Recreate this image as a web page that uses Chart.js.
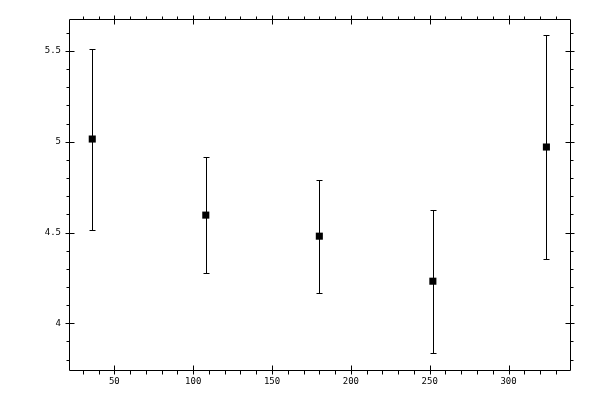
<!DOCTYPE html>
<html>
<head>
<meta charset="utf-8">
<script src="https://cdn.jsdelivr.net/npm/chart.js@4/dist/chart.umd.min.js"></script>
<style>
  body { margin: 0; background: #fff; }
  #wrap { width: 600px; height: 400px; }
</style>
</head>
<body>
<div id="wrap"><canvas id="chart" width="600" height="400"></canvas></div>
<script>
// values
var xValues = [36, 108, 180, 252, 324];
var yValues = [5.015, 4.596, 4.480, 4.232, 4.971];
var yLow    = [4.516, 4.277, 4.167, 3.834, 4.355];
var yHigh   = [5.509, 4.914, 4.789, 4.624, 5.588];

var xTickLabels = [50, 100, 150, 200, 250, 300];
var yTickLabels = [4, 4.5, 5, 5.5];

// axis ranges
var xMin = 21.25, xMax = 339.6;
var yMin = 3.743, yMax = 5.676;
var xMinorStep = 10, yMinorStep = 0.1;

var points = [];
for (var i = 0; i < xValues.length; i++) {
  points.push({ x: xValues[i], y: yValues[i] });
}

// error bars drawn under the markers
var errorBars = {
  id: "errorBars",
  beforeDatasetsDraw: function(chart) {
    var ctx = chart.ctx;
    var xs = chart.scales.x, ys = chart.scales.y;
    ctx.save();
    ctx.strokeStyle = "#000";
    ctx.lineWidth = 1;
    for (var i = 0; i < xValues.length; i++) {
      var px = Math.round(xs.getPixelForValue(xValues[i])) + 0.5;
      var top = Math.round(ys.getPixelForValue(yHigh[i])) + 0.5;
      var bot = Math.round(ys.getPixelForValue(yLow[i])) + 0.5;
      ctx.beginPath();
      ctx.moveTo(px, top); ctx.lineTo(px, bot);
      ctx.moveTo(px - 3, top); ctx.lineTo(px + 3, top);
      ctx.moveTo(px - 3, bot); ctx.lineTo(px + 3, bot);
      ctx.stroke();
    }
    ctx.restore();
  }
};

// frame with tick marks on all four sides
var frameTicks = {
  id: "frameTicks",
  afterDraw: function(chart) {
    var ctx = chart.ctx;
    var a = chart.chartArea;
    var xs = chart.scales.x, ys = chart.scales.y;
    var L = Math.round(a.left) + 0.5, R = Math.round(a.right) - 0.5;
    var T = Math.round(a.top) + 0.5, B = Math.round(a.bottom) + 0.5;
    ctx.save();
    ctx.strokeStyle = "#000";
    ctx.lineWidth = 1;
    ctx.beginPath();
    ctx.rect(L, T, R - L, B - T);

    var v, p, major;
    for (v = Math.ceil(xMin / xMinorStep) * xMinorStep; v <= xMax; v += xMinorStep) {
      p = Math.round(xs.getPixelForValue(v)) + 0.5;
      major = xTickLabels.indexOf(Math.round(v)) >= 0;
      if (major) {
        ctx.moveTo(p, B + 4); ctx.lineTo(p, B - 5);
        ctx.moveTo(p, T - 4); ctx.lineTo(p, T + 5);
      } else {
        ctx.moveTo(p, B); ctx.lineTo(p, B + 4);
        ctx.moveTo(p, T); ctx.lineTo(p, T - 3);
      }
    }
    for (v = Math.ceil(yMin / yMinorStep) * yMinorStep; v <= yMax; v += yMinorStep) {
      var rv = Math.round(v * 10) / 10;
      p = Math.round(ys.getPixelForValue(rv)) + 0.5;
      major = yTickLabels.indexOf(rv) >= 0;
      if (major) {
        ctx.moveTo(L - 4, p); ctx.lineTo(L + 5, p);
        ctx.moveTo(R + 4, p); ctx.lineTo(R - 5, p);
      } else {
        ctx.moveTo(L, p); ctx.lineTo(L - 3, p);
        ctx.moveTo(R, p); ctx.lineTo(R + 3, p);
      }
    }
    ctx.stroke();
    ctx.restore();
  }
};

var ctx = document.getElementById("chart");

var chart = new Chart(ctx, {
  type: "scatter",
  data: {
    datasets: [{
      data: points,
      backgroundColor: "#000",
      borderWidth: 0,
      pointStyle: "rect",
      pointRadius: 5,
      pointHoverRadius: 5
    }]
  },
  options: {
    responsive: false,
    animation: false,
    devicePixelRatio: 1,
    layout: { padding: { top: 19, right: 29, left: 0, bottom: 0 } },
    plugins: {
      legend: { display: false },
      tooltip: { enabled: false }
    },
    scales: {
      x: {
        type: "linear",
        min: xMin,
        max: xMax,
        grid: { display: false, drawTicks: false },
        border: { display: false },
        afterBuildTicks: function(s) {
          s.ticks = xTickLabels.map(function(v) { return { value: v }; });
        },
        afterFit: function(s) { s.height = 30; },
        ticks: {
          color: "#000",
          padding: 6,
          maxRotation: 0,
          font: { family: "DejaVu Sans Mono", size: 9 },
          callback: function(v) { return String(v); }
        }
      },
      y: {
        type: "linear",
        min: yMin,
        max: yMax,
        grid: { display: false, drawTicks: false },
        border: { display: false },
        afterBuildTicks: function(s) {
          s.ticks = yTickLabels.map(function(v) { return { value: v }; });
        },
        afterFit: function(s) { s.width = 69; },
        ticks: {
          color: "#000",
          padding: 8,
          font: { family: "DejaVu Sans Mono", size: 9 },
          callback: function(v) { return String(v); }
        }
      }
    }
  },
  plugins: [errorBars, frameTicks]
});
</script>
</body>
</html>
